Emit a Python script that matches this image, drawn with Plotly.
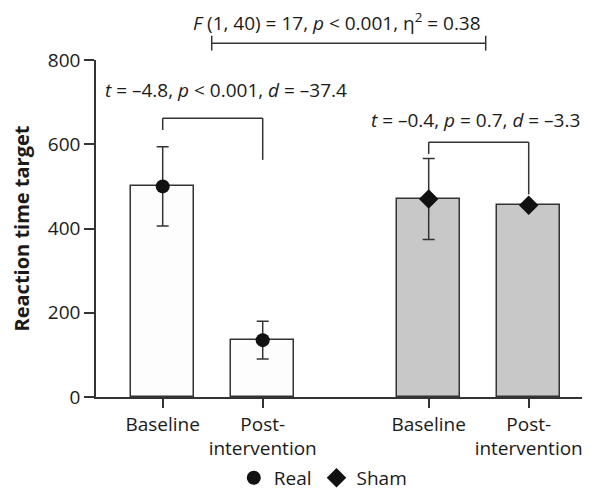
import plotly.graph_objects as go

# ---- data ----
categories = ["Baseline", "Post-<br>intervention", "Baseline", "Post-<br>intervention"]
groups = ["Real", "Real", "Sham", "Sham"]
means = [500, 135, 470, 455]
sds = [94, 45, 96, 0]
y_ticks = [0, 200, 400, 600, 800]

stat_top = "<i>F</i> (1, 40) = 17, <i>p</i> &lt; 0.001, η<sup>2</sup> = 0.38"
stat_real = "<i>t</i> = –4.8, <i>p</i> &lt; 0.001, <i>d</i> = –37.4"
stat_sham = "<i>t</i> = –0.4, <i>p</i> = 0.7, <i>d</i> = –3.3"

# ---- layout constants ----
xpos = [0, 1, 2.66, 3.66]
fills = {"Real": "#fdfdfd", "Sham": "#c8c8c8"}
symbols = {"Real": "circle", "Sham": "diamond"}
msize = {"Real": 14, "Sham": 15}
LINE = "#333333"
TXT = "#1a1a1a"
FONT = "Open Sans"
FS = 19

fig = go.Figure()

fig.add_trace(go.Bar(
    x=xpos, y=means, width=0.63,
    marker=dict(color=[fills[g] for g in groups], line=dict(color=LINE, width=1.5)),
    showlegend=False, hoverinfo="skip",
))

for g in ["Real", "Sham"]:
    idx = [i for i, gg in enumerate(groups) if gg == g]
    fig.add_trace(go.Scatter(
        x=[xpos[i] for i in idx], y=[means[i] for i in idx],
        mode="markers", name=g,
        marker=dict(symbol=symbols[g], size=msize[g], color="#111111"),
        error_y=dict(type="data", array=[sds[i] for i in idx], color=LINE,
                     thickness=1.5, width=6, visible=True),
    ))

def line(x0, y0, x1, y1, yref="y"):
    fig.add_shape(type="line", x0=x0, y0=y0, x1=x1, y1=y1, xref="x", yref=yref,
                  line=dict(color=LINE, width=1.5))

# Real bracket
line(xpos[0], 662, xpos[1], 662)
line(xpos[0], 662, xpos[0], 634)
line(xpos[1], 662, xpos[1], 563)
# Sham bracket
line(xpos[2], 605, xpos[3], 605)
line(xpos[2], 605, xpos[2], 577)
line(xpos[3], 605, xpos[3], 481)
# Top bracket (paper y)
tx0, tx1 = 0.49, 3.23
line(tx0, 1.050, tx1, 1.050, yref="paper")
line(tx0, 1.072, tx0, 1.028, yref="paper")
line(tx1, 1.072, tx1, 1.028, yref="paper")

fig.add_annotation(x=1.74, y=1.113, xref="x", yref="paper", yanchor="middle", xanchor="center",
                   text=stat_top, showarrow=False, font=dict(size=FS, color=TXT, family=FONT))
fig.add_annotation(x=0.63, y=729, xref="x", yref="y", yanchor="middle", xanchor="center",
                   text=stat_real, showarrow=False, font=dict(size=FS, color=TXT, family=FONT))
fig.add_annotation(x=3.13, y=658, xref="x", yref="y", yanchor="middle", xanchor="center",
                   text=stat_sham, showarrow=False, font=dict(size=FS, color=TXT, family=FONT))

fig.update_layout(
    width=582, height=483,
    margin=dict(l=88, r=1, t=52, b=94, autoexpand=False),
    plot_bgcolor="white", paper_bgcolor="white",
    font=dict(family=FONT, color=TXT, size=FS),
    bargap=0,
    legend=dict(orientation="h", x=0.46, xanchor="center", y=-0.240, yanchor="middle",
                font=dict(size=FS, color=TXT, family=FONT), itemwidth=30),
    xaxis=dict(range=[-0.667, 4.263], tickmode="array", tickvals=xpos, ticktext=categories,
               showline=True, linecolor=LINE, linewidth=1.5, ticks="outside", ticklen=9,
               tickwidth=1.5, tickcolor=LINE, showgrid=False, zeroline=False, automargin=False,
               tickfont=dict(size=FS, family=FONT, color=TXT)),
    yaxis=dict(range=[0, 800], tickvals=y_ticks, showline=True, linecolor=LINE, linewidth=1.5,
               ticks="outside", ticklen=10, tickwidth=1.5, tickcolor=LINE, showgrid=False,
               zeroline=False, automargin=False, tickfont=dict(size=FS, family=FONT, color=TXT),
               title=dict(text="<b>Reaction time target</b>", standoff=20,
                          font=dict(size=20, family=FONT, color=TXT))),
)

fig.write_html("out.html")
